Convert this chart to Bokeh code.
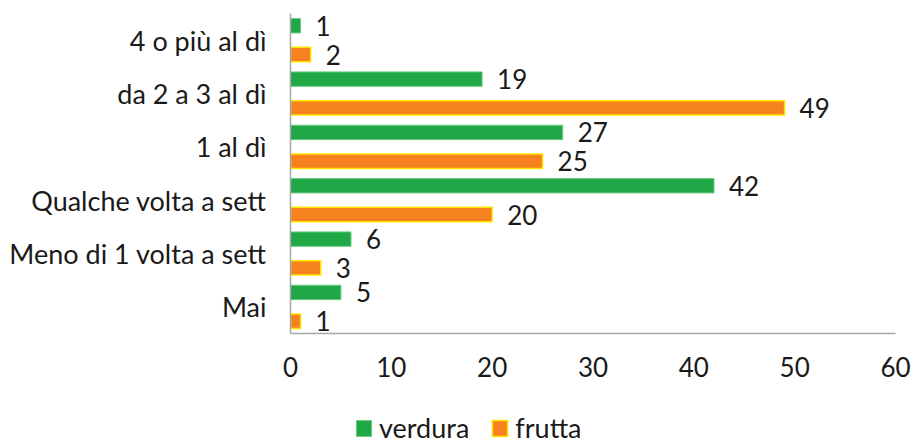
from bokeh.plotting import figure
from bokeh.layouts import column
from bokeh.models import ColumnDataSource, FactorRange, Range1d, Legend, LegendItem, FixedTicker
from bokeh.transform import dodge
from bokeh.core.properties import value
from bokeh.embed import file_html
from bokeh.resources import INLINE

categories = ["4 o più al dì", "da 2 a 3 al dì", "1 al dì", "Qualche volta a sett",
              "Meno di 1 volta a sett", "Mai"]
verdura = [1, 19, 27, 42, 6, 5]
frutta = [2, 49, 25, 20, 3, 1]
x_ticks = [0, 10, 20, 30, 40, 50, 60]
series = ["verdura", "frutta"]

FONT = "Lato"
FS = "26px"
FS_CAT = "27px"
GREEN, GREEN_LINE = "#21A846", "#6CCB85"
ORANGE, ORANGE_LINE = "#F5821F", "#FFE400"

src = ColumnDataSource(dict(cat=categories, verdura=verdura, frutta=frutta,
                            vl=[str(v) for v in verdura], fl=[str(v) for v in frutta]))

p = figure(width=912, height=390, output_backend="svg", toolbar_location=None,
           y_range=FactorRange(factors=list(reversed(categories))),
           x_range=Range1d(0, 60),
           min_border_left=290, min_border_right=17, min_border_top=13, min_border_bottom=57)
p.outline_line_color = None
p.grid.grid_line_color = None
p.background_fill_color = "white"
p.border_fill_color = "white"

OFF = 0.27
H = 0.27
p.hbar(y=dodge("cat", OFF, range=p.y_range), right="verdura", left=0, height=H, source=src,
       fill_color=GREEN, line_color=GREEN_LINE, line_width=1)
p.hbar(y=dodge("cat", -OFF, range=p.y_range), right="frutta", left=0, height=H, source=src,
       fill_color=ORANGE, line_color=ORANGE_LINE, line_width=1.5)

p.text(x="verdura", y=dodge("cat", OFF, range=p.y_range), text="vl", source=src,
       x_offset=15, text_align="left", text_baseline="middle",
       text_font=value(FONT), text_font_size=FS, text_color="#1a1a1a")
p.text(x="frutta", y=dodge("cat", -OFF, range=p.y_range), text="fl", source=src,
       x_offset=15, text_align="left", text_baseline="middle",
       text_font=value(FONT), text_font_size=FS, text_color="#1a1a1a")

for ax in (p.xaxis, p.yaxis):
    ax.axis_line_color = "#A6A6A6"
    ax.axis_line_width = 1.5
    ax.major_tick_line_color = None
    ax.minor_tick_line_color = None
    ax.major_tick_out = 0
    ax.major_tick_in = 0
    ax.major_label_text_font = FONT
    ax.major_label_text_font_size = FS
    ax.major_label_text_color = "#1a1a1a"
p.yaxis.major_label_text_font_size = FS_CAT
p.xaxis.ticker = FixedTicker(ticks=x_ticks)
p.xaxis.major_label_standoff = 23
p.yaxis.major_label_standoff = 24

# legend strip below
lg = figure(width=912, height=54, output_backend="svg", toolbar_location=None,
            x_range=Range1d(0, 1), y_range=Range1d(0, 1),
            min_border=0, x_axis_location=None, y_axis_location=None)
lg.outline_line_color = None
lg.grid.grid_line_color = None
r1 = lg.rect(x=[-5], y=[-5], width=0.1, height=0.1, fill_color=GREEN, line_color=GREEN_LINE)
r2 = lg.rect(x=[-5], y=[-5], width=0.1, height=0.1, fill_color=ORANGE, line_color=ORANGE_LINE,
             line_width=1.5)
legend = Legend(items=[LegendItem(label=series[0], renderers=[r1]),
                       LegendItem(label=series[1], renderers=[r2])],
                orientation="horizontal", location=(64, 0),
                label_text_font=FONT, label_text_font_size=FS_CAT, label_text_color="#1a1a1a",
                glyph_width=19, glyph_height=20, padding=0, margin=0, spacing=21,
                label_standoff=6, border_line_color=None, background_fill_alpha=0)
lg.add_layout(legend, "center")

layout = column(p, lg, spacing=0)
open("out.html", "w").write(file_html(layout, INLINE))
